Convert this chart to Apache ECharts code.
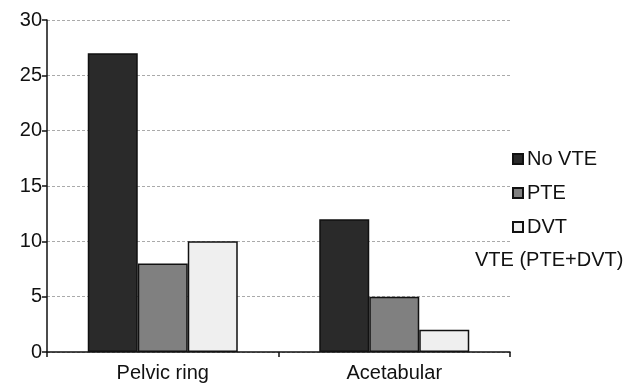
<!DOCTYPE html>
<html>
<head>
<meta charset="utf-8">
<script src="https://cdn.jsdelivr.net/npm/echarts@6/dist/echarts.min.js"></script>
<style>html,body{margin:0;padding:0;background:#fff;}#c{width:634px;height:391px;}</style>
</head>
<body>
<div id="c"></div>
<script>
var categories = ["Pelvic ring", "Acetabular"];
var noVTE = [27, 12];
var pte = [8, 5];
var dvt = [10, 2];
var yTicks = [0, 5, 10, 15, 20, 25, 30];

var chart = echarts.init(document.getElementById('c'));
var font = 'Liberation Sans, Arial, sans-serif';
var barStyle = function (c) { return { color: c, borderColor: '#111', borderWidth: 1.5 }; };
chart.setOption({
  animation: false,
  backgroundColor: '#fff',
  textStyle: { fontFamily: font },
  grid: [
    { left: 47, right: 124, top: 20, bottom: 39 }
  ],
  legend: [
    {
      data: ['No VTE', 'PTE', 'DVT'],
      orient: 'vertical', left: 507, top: 142,
      icon: 'rect', itemWidth: 10, itemHeight: 10, itemGap: 10,
      textStyle: { fontSize: 20, color: '#111', lineHeight: 24, padding: [0, 0, 0, -1], fontFamily: font },
      selectedMode: false
    },
    {
      data: ['VTE (PTE+DVT)'],
      orient: 'vertical', left: 465, top: 243,
      icon: 'none', itemWidth: 0, itemHeight: 10,
      textStyle: { fontSize: 20, color: '#111', lineHeight: 24, fontFamily: font },
      selectedMode: false
    }
  ],
  xAxis: [
    {
      type: 'category', data: categories,
      axisLine: { lineStyle: { color: '#111', width: 1.5 } },
      axisTick: { show: true, length: 5, lineStyle: { color: '#111', width: 1.5 } },
      axisLabel: { fontSize: 20, color: '#111', margin: 11, fontFamily: font },
      splitLine: { show: false }
    }
  ],
  yAxis: [
    {
      type: 'value', min: 0, max: 30, interval: 5,
      axisLine: { show: true, lineStyle: { color: '#111', width: 1.5 } },
      axisTick: { show: true, length: 5, lineStyle: { color: '#111', width: 1.5 } },
      axisLabel: { fontSize: 20, color: '#111', margin: 5, fontFamily: font, customValues: yTicks },
      splitLine: { show: true, lineStyle: { color: '#aaa', type: [3, 2], width: 1 } }
    }
  ],
  series: [
    { name: 'No VTE', type: 'bar', data: noVTE, barWidth: 50, barGap: '0%', itemStyle: barStyle('#2a2a2a') },
    { name: 'PTE', type: 'bar', data: pte, barWidth: 50, barGap: '0%', itemStyle: barStyle('#808080') },
    { name: 'DVT', type: 'bar', data: dvt, barWidth: 50, barGap: '0%', itemStyle: barStyle('#efefef') },
    { name: 'VTE (PTE+DVT)', type: 'bar', data: [], itemStyle: { color: 'transparent' } }
  ]
});
</script>
</body>
</html>
